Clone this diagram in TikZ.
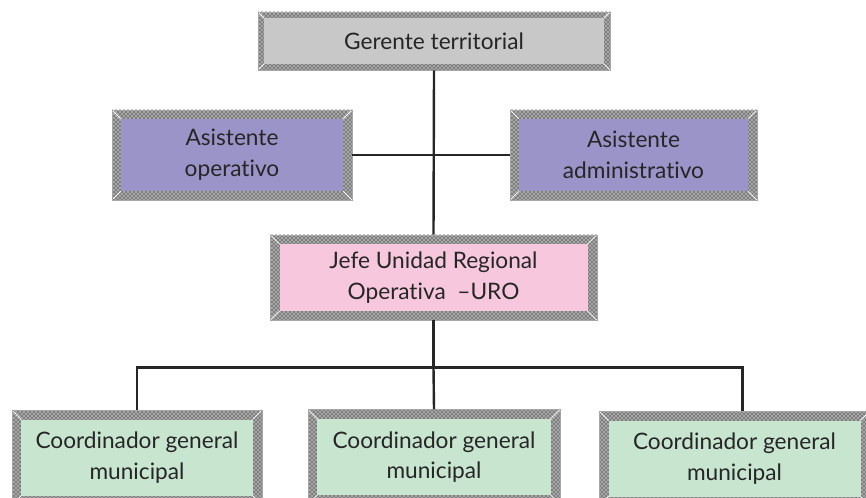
\documentclass[tikz,border=0pt]{standalone}
\usepackage{fontspec}
\setmainfont{Lato}[Ligatures={NoCommon}]
\usetikzlibrary{patterns}

\definecolor{grau}{RGB}{200,200,200}
\definecolor{violett}{RGB}{155,148,201}
\definecolor{rosa}{RGB}{247,199,221}
\definecolor{mint}{RGB}{200,229,208}

\tikzset{
  orgbox/.style 2 args={rectangle, inner sep=0pt, align=center, text=black!85,
    draw=gray!70, line width=0.4pt,
    font=\fontsize{17}{23}\selectfont,
    path picture={
      \fill[gray!70] (path picture bounding box.south west) rectangle (path picture bounding box.north east);
      \fill[pattern=crosshatch dots, pattern color=black] (path picture bounding box.south west) rectangle (path picture bounding box.north east);
      \fill[#1] ([shift={(#2,#2)}]path picture bounding box.south west) rectangle ([shift={(-#2,-#2)}]path picture bounding box.north east);
      \draw[white, line width=0.6pt] (path picture bounding box.south west) -- ([shift={(#2,#2)}]path picture bounding box.south west);
      \draw[white, line width=0.6pt] (path picture bounding box.north east) -- ([shift={(-#2,-#2)}]path picture bounding box.north east);
      \draw[white, line width=0.6pt] (path picture bounding box.north west) -- ([shift={(#2,-#2)}]path picture bounding box.north west);
      \draw[white, line width=0.6pt] (path picture bounding box.south east) -- ([shift={(-#2,#2)}]path picture bounding box.south east);
    }},
  linie/.style={line width=1.8pt, black!85},
}

\begin{document}
\begin{tikzpicture}[x=0.75pt, y=-0.75pt]
		\useasboundingbox (0,0) rectangle (866,498);
		% Kaesten
		\node[orgbox={grau}{4.5pt}, minimum width=264pt, minimum height=43.5pt] (gerente) at (434,41) {Gerente territorial};
		\node[orgbox={violett}{6.5pt}, minimum width=180pt, minimum height=67.5pt] (aop) at (232,155) {Asistente\\operativo};
		\node[orgbox={violett}{6.5pt}, minimum width=185pt, minimum height=67.5pt] (aad) at (633.5,155) {Asistente\\administrativo};
		\node[orgbox={rosa}{7pt}, minimum width=245pt, minimum height=64pt] (jefe) at (433.5,277.5) {Jefe Unidad Regional\\Operativa\ \ –URO};
		\node[orgbox={mint}{7pt}, minimum width=187.5pt, minimum height=71pt] (c1) at (137,457.5) {Coordinador general\\municipal};
		\node[orgbox={mint}{7pt}, minimum width=189pt, minimum height=71pt] (c2) at (434,457) {Coordinador general\\municipal};
		\node[orgbox={mint}{7pt}, minimum width=203pt, minimum height=71pt] (c3) at (734.5,458.5) {Coordinador general\\municipal};
		
		% Verbindungen
		\draw[linie] (gerente.south) -- (jefe.north);
		\draw[linie] (aop.east) -- (aad.west);
		\draw[linie] (jefe.south) -- ++(0,47) coordinate (verteiler);
		\draw[linie] (verteiler) -| (c1.north);
		\draw[linie] (verteiler) -- (c2.north);
		\draw[linie] (verteiler) -| ([xshift=6pt]c3.north);
	\end{tikzpicture}
\end{document}
